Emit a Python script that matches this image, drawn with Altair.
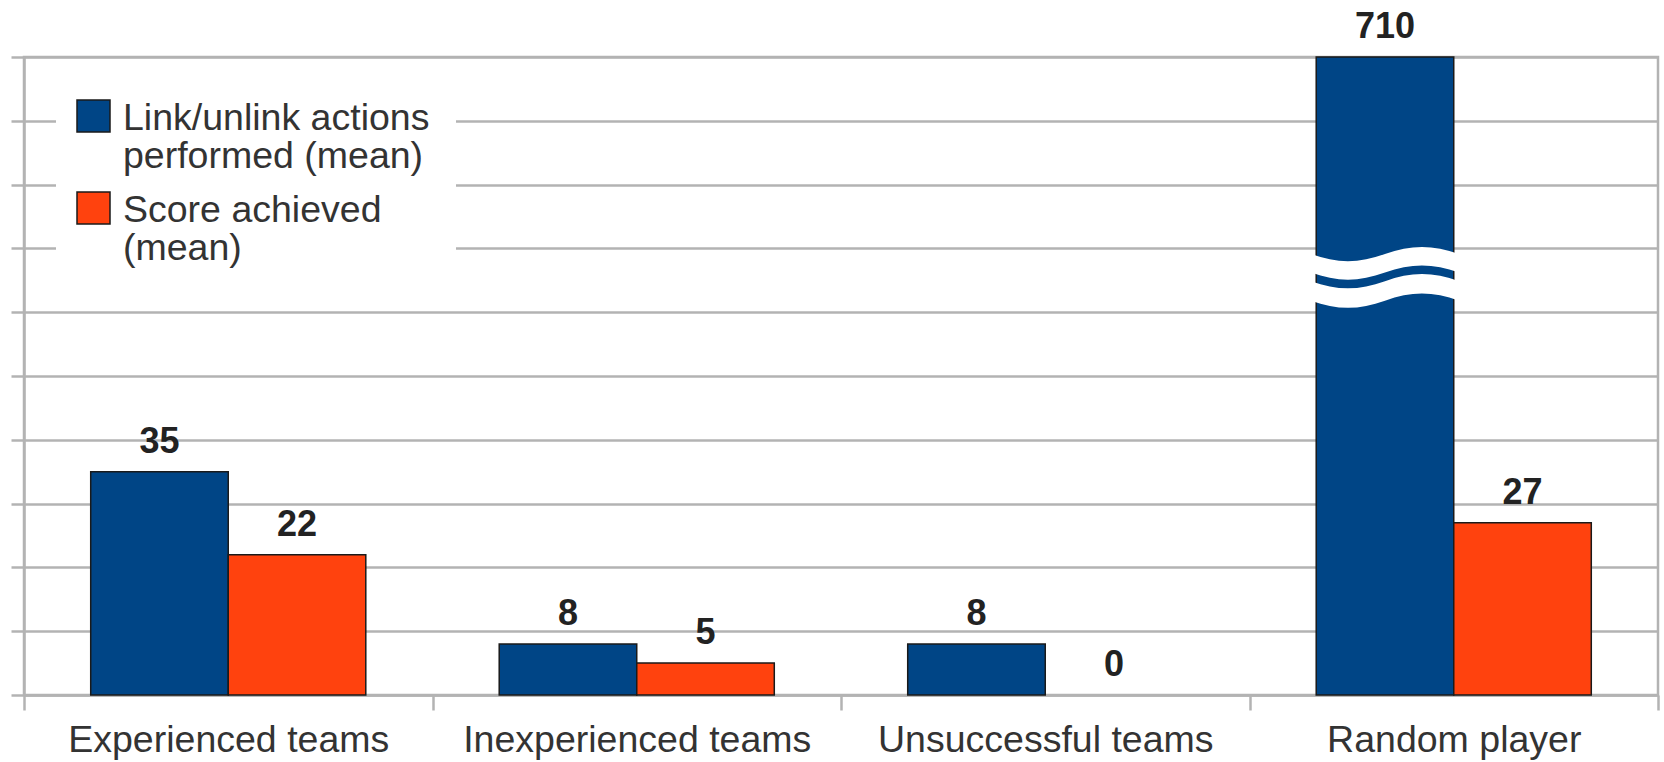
import altair as alt
import pandas as pd

# Categories, series and values
groups = ["Experienced teams", "Inexperienced teams", "Unsuccessful teams", "Random player"]
series = ["Link/unlink actions performed (mean)", "Score achieved (mean)"]
actions = [35, 8, 8, 710]
scores = [22, 5, 0, 27]

legend_lines = ["Link/unlink actions\nperformed (mean)", "Score achieved\n(mean)"]
colors = ["#004586", "#ff420e"]

AXIS_MAX = 100   # bars taller than this are cut and marked with a break
BREAK_AT = 65    # height of the break symbol on the cut bar

GRID = "#b3b3b3"
EDGE = "#1a1a1a"
FONT = "Liberation Sans"

rows = []
for g, a, s in zip(groups, actions, scores):
    rows.append({"group": g, "series": series[0], "value": a})
    rows.append({"group": g, "series": series[1], "value": s})
df = pd.DataFrame(rows)

# Two white wavy stripes (unit-square symbol path) used as an axis-break sign
k = 0.128
def stripe(a, b):
    return (f"M-1,{a} C-0.65,{a + k:.3f} -0.35,{a + k:.3f} 0,{a} "
            f"C0.35,{a - k:.3f} 0.65,{a - k:.3f} 1,{a} "
            f"L1,{b} C0.65,{b - k:.3f} 0.35,{b - k:.3f} 0,{b} "
            f"C-0.35,{b + k:.3f} -0.65,{b + k:.3f} -1,{b} Z")
WAVE = stripe(-0.355, -0.105) + " " + stripe(0.012, 0.275)

x_axis = alt.Axis(
    title=None, labelAngle=0, labelFont=FONT, labelFontSize=37.5, labelColor="#333333",
    labelPadding=11, labelLimit=600, tickBand="extent", tickSize=15,
    tickColor=GRID, tickWidth=2.5, domainColor=GRID, domainWidth=2.5, grid=False,
)
y_axis = alt.Axis(
    title=None, values=list(range(0, AXIS_MAX + 1, 10)), labels=False, tickSize=13,
    tickColor=GRID, tickWidth=2.5, domainColor=GRID, domainWidth=2.5,
    grid=True, gridColor=GRID, gridWidth=2.5,
)

base = alt.Chart(df).transform_calculate(
    shown=f"min(datum.value, {AXIS_MAX})"
).encode(
    x=alt.X("group:N", sort=groups, scale=alt.Scale(paddingInner=0, paddingOuter=0), axis=x_axis),
    xOffset=alt.XOffset("series:N", sort=series,
                        scale=alt.Scale(paddingInner=0, paddingOuter=0.485)),
    y=alt.Y("shown:Q", scale=alt.Scale(domain=[0, AXIS_MAX], nice=False), axis=y_axis),
)

bars = base.mark_bar(stroke=EDGE, strokeWidth=1.5).encode(
    color=alt.Color("series:N", sort=series,
                    scale=alt.Scale(domain=series, range=colors), legend=None),
    strokeOpacity=alt.condition("datum.value > 0", alt.value(1), alt.value(0)),
)

labels = base.mark_text(
    font=FONT, fontSize=36, fontWeight="bold", color="#222222", dy=-19, baseline="alphabetic",
).encode(text="value:Q")

breaks = base.transform_filter(f"datum.value > {AXIS_MAX}").mark_point(
    shape=WAVE, size=21904, filled=True, color="white", opacity=1, strokeWidth=0,
).encode(y=alt.datum(BREAK_AT))

# Legend box in the upper-left corner of the plot
legend_layers = [
    alt.Chart(pd.DataFrame({"k": [0]})).mark_rect(color="white").encode(
        x=alt.value(32), x2=alt.value(432), y=alt.value(13), y2=alt.value(233)
    )
]
for i, (line, col) in enumerate(zip(legend_lines, colors)):
    top = 43 + i * 92
    entry = pd.DataFrame({"entry": [line]})
    legend_layers.append(
        alt.Chart(entry).mark_rect(fill=col, stroke=EDGE, strokeWidth=1.5).encode(
            x=alt.value(53), x2=alt.value(86), y=alt.value(top), y2=alt.value(top + 32)
        )
    )
    legend_layers.append(
        alt.Chart(entry).mark_text(
            align="left", baseline="alphabetic", lineBreak="\n", lineHeight=38,
            font=FONT, fontSize=37.5, color="#333333",
        ).encode(x=alt.value(99), y=alt.value(top + 30), text="entry:N")
    )

chart = alt.layer(bars, labels, breaks, *legend_layers).properties(
    width=1634,
    height=638,
    autosize=alt.AutoSizeParams(type="none"),
    padding={"left": 24, "top": 57, "right": 6, "bottom": 67},
    background="white",
).configure_view(stroke=GRID, strokeWidth=2.5)

chart.save("out.html", embed_options={"renderer": "svg", "actions": False})
